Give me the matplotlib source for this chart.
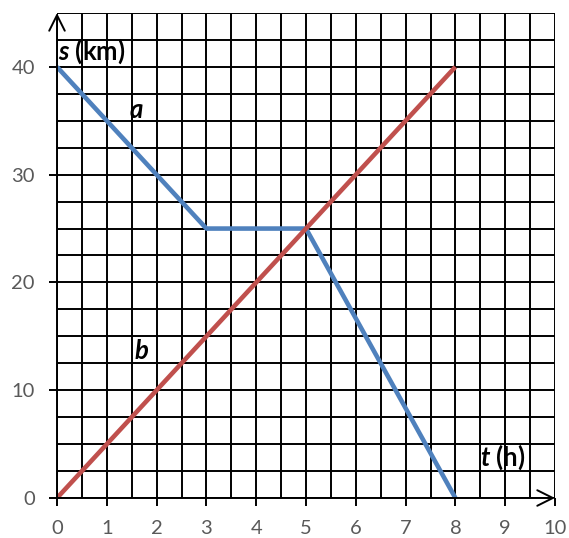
import numpy as np
import matplotlib.pyplot as plt

# route a and route b, t in hours, s in km
t_a = [0, 3, 5, 8]
s_a = [40, 25, 25, 0]
t_b = [0, 8]
s_b = [0, 40]

x_ticks = list(range(0, 11))
y_ticks = [0, 10, 20, 30, 40]

plt.rcParams['font.family'] = ['Lato', 'DejaVu Sans']
plt.rcParams['mathtext.fontset'] = 'custom'
plt.rcParams['mathtext.bfit'] = 'Lato:italic:bold'
plt.rcParams['mathtext.rm'] = 'Lato'

fig = plt.figure(figsize=(5.69, 5.38), dpi=100)
ax = fig.add_axes([57 / 569, 40 / 538, 498 / 569, 485 / 538])

ax.set_xlim(0, 10)
ax.set_ylim(0, 45)

# grid every half hour and every 2.5 km
ax.set_xticks(np.arange(0, 10.01, 0.5), minor=True)
ax.set_yticks(np.arange(0, 45.01, 2.5), minor=True)
ax.grid(which='both', color='black', linewidth=1.4)
ax.tick_params(which='minor', length=0)
ax.set_xticks(x_ticks)
ax.set_yticks(y_ticks)
ax.tick_params(which='major', length=6, width=1.4, color='black',
               labelsize=14.5, labelcolor='#595959')
ax.tick_params(axis='y', pad=10)
ax.tick_params(axis='x', pad=10)
for sp in ax.spines.values():
    sp.set_visible(False)

ax.plot(t_a, s_a, color='#4F81BD', linewidth=3.3, solid_capstyle='butt', zorder=3)
ax.plot(t_b, s_b, color='#C0504D', linewidth=3.3, solid_capstyle='butt', zorder=3)

# arrows on axes
ax.annotate('', xy=(0, 45), xytext=(0, 0), annotation_clip=False,
            arrowprops=dict(arrowstyle='->', lw=1.4, color='black', mutation_scale=28,
                            shrinkA=0, shrinkB=0))
ax.annotate('', xy=(10, 0), xytext=(0, 0), annotation_clip=False,
            arrowprops=dict(arrowstyle='->', lw=1.4, color='black', mutation_scale=28,
                            shrinkA=0, shrinkB=0))

ax.text(0.03, 40.1, '$\\mathbfit{s}$ (km)', fontsize=18.5, fontweight='bold', va='bottom', zorder=4)
ax.text(8.5, 2.4, '$\\mathbfit{t}$ (h)', fontsize=18.5, fontweight='bold', va='bottom', zorder=4)
ax.text(1.45, 35.3, 'a', fontsize=18.5, fontweight='bold', style='italic', zorder=4)
ax.text(1.55, 12.9, 'b', fontsize=18.5, fontweight='bold', style='italic', zorder=4)

fig.savefig('out.png', dpi=100)
